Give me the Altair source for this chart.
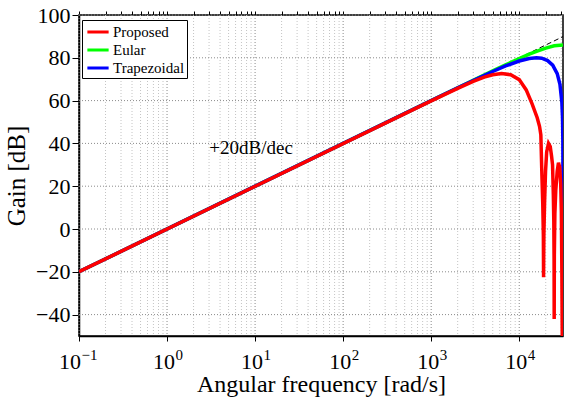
import altair as alt
import pandas as pd

SERIF = "Liberation Serif"

# ---- data ----
ideal_w = [0.1, 31416]
ideal_gain = [-20.0, 89.9]

euler_w = [0.1, 1000, 2000, 3000, 5000, 7000, 10000, 13000, 16000, 20000, 25000, 31416]
euler_gain = [-20.0, 60.0, 66.0, 69.5, 73.9, 76.7, 79.6, 81.7, 83.1, 84.5, 85.6, 86.0]

trap_w = [0.1, 1000, 2000, 3000, 5000, 7000, 10000, 13000, 15708, 18000, 21000, 24000,
          27000, 29000, 30500, 31000, 31300, 31400, 31416]
trap_gain = [-20.0, 60.0, 66.0, 69.4, 73.6, 76.2, 78.5, 79.7, 80.0, 79.8, 78.7, 76.6,
             72.6, 67.6, 59.2, 52.4, 41.3, 24.0, -60.0]

prop_w = [0.1, 1000, 2000, 3000, 4000, 5000, 6300, 8000, 10000, 12000, 14000, 16000,
          17000, 17600, 18100, 18500, 18800, 18900, 19050, 19400, 19900, 20500, 21500,
          22500, 23300, 23900, 24400, 24700, 24880, 24950, 25050, 25400, 26000, 27000,
          27900, 28800, 29600, 30100, 30500, 30900, 31416]
prop_gain = [-20.0, 59.9, 65.7, 69.0, 71.0, 72.1, 72.6, 72.1, 69.8, 65.0, 58.5, 52.0,
             48.0, 44.0, 25.0, 12.0, -3.0, -22.5, -3.0, 12.0, 27.0, 36.0, 40.0,
             38.5, 34.0, 30.0, 16.0, 4.0, -14.0, -42.0, -12.0, 7.0, 18.0, 27.0,
             31.0, 29.0, 21.0, 8.0, -20.0, -60.0, -90.0]

series_names = ["Proposed", "Eular", "Trapezoidal"]
series_colors = ["#ff0000", "#00ff00", "#0000ff"]

x_major = [0.1, 1, 10, 100, 1000, 10000]
x_exp = ["\u22121", "0", "1", "2", "3", "4"]
x_minor = [m * d for d in [0.1, 1, 10, 100, 1000, 10000] for m in range(2, 10) if m * d <= 31416]
y_ticks = [-40, -20, 0, 20, 40, 60, 80, 100]

ann_w = [9]
ann_gain = [38]
ann_text = ["+20dB/dec"]

# ---- tables ----
lines = pd.concat([
    pd.DataFrame({"w": euler_w, "g": euler_gain, "series": "Eular"}),
    pd.DataFrame({"w": trap_w, "g": trap_gain, "series": "Trapezoidal"}),
    pd.DataFrame({"w": prop_w, "g": prop_gain, "series": "Proposed"}),
])
ideal = pd.DataFrame({"w": ideal_w, "g": ideal_gain})
minor_df = pd.DataFrame({"w": x_minor})
major_df = pd.DataFrame({"w": x_major, "e": x_exp})
ygrid_df = pd.DataFrame({"g": y_ticks})
ann_df = pd.DataFrame({"w": ann_w, "g": ann_gain, "t": ann_text})

xscale = alt.Scale(type="log", domain=[0.1, 31416], nice=False)
yscale = alt.Scale(domain=[-50, 100], nice=False)

# grid
minor_grid = alt.Chart(minor_df).mark_rule(color="#c4c4c4", strokeWidth=1, strokeDash=[1, 2]).encode(
    x=alt.X("w:Q", scale=xscale,
            axis=alt.Axis(orient="top", values=x_major + x_minor, labels=False, ticks=True,
                          tickSize=4, tickColor="black", domain=False, grid=False, title=None))
)
major_grid = alt.Chart(major_df).mark_rule(color="#8a8a8a", strokeWidth=1, strokeDash=[1, 2]).encode(
    x=alt.X("w:Q", scale=xscale, axis=None)
)
y_grid = alt.Chart(ygrid_df).mark_rule(color="#8a8a8a", strokeWidth=1, strokeDash=[1, 2]).encode(
    y=alt.Y("g:Q", scale=yscale, axis=None)
)

ideal_line = alt.Chart(ideal).mark_line(color="black", strokeWidth=1, strokeDash=[5, 3], clip=True).encode(
    x=alt.X("w:Q", scale=xscale, axis=None),
    y=alt.Y("g:Q", scale=yscale, axis=None),
)

legend = alt.Legend(title=None, orient="none", legendX=3, legendY=5,
                    symbolType="M-1.25,0L1.25,0", symbolSize=289, symbolStrokeWidth=3,
                    symbolOffset=4, labelFont=SERIF, labelFontSize=15, labelColor="black",
                    fillColor="white", strokeColor="black", padding=2,
                    rowPadding=0, labelOffset=5, cornerRadius=0)
color = alt.Color("series:N", scale=alt.Scale(domain=series_names, range=series_colors), legend=legend)

x_axis = alt.Axis(values=x_major, labels=False, ticks=True, tickSize=5, tickColor="black",
                  domain=True, domainColor="black", domainWidth=1.5, grid=False,
                  title="Angular frequency [rad/s]", titleFont=SERIF, titleFontSize=24,
                  titleFontWeight="normal", titleColor="black", titlePadding=31)
y_axis = alt.Axis(values=y_ticks, tickSize=7, tickColor="black", domain=True, domainColor="black",
                  domainWidth=1.5, grid=False, labelFont=SERIF, labelFontSize=22, labelColor="black",
                  labelPadding=2, title="Gain [dB]", titleFont=SERIF, titleFontSize=25,
                  titleFontWeight="normal", titleColor="black", titlePadding=6)


def series_layer(name, with_axes):
    return alt.Chart(lines).transform_filter(alt.datum.series == name).mark_line(
        strokeWidth=3.5, clip=True
    ).encode(
        x=alt.X("w:Q", scale=xscale, axis=x_axis if with_axes else None),
        y=alt.Y("g:Q", scale=yscale, axis=y_axis if with_axes else None),
        color=color,
    )


eular_layer = series_layer("Eular", True)
trap_layer = series_layer("Trapezoidal", False)
prop_layer = series_layer("Proposed", False)

ann = alt.Chart(ann_df).mark_text(font=SERIF, fontSize=19, color="black").encode(
    x=alt.X("w:Q", scale=xscale, axis=None),
    y=alt.Y("g:Q", scale=yscale, axis=None),
    text="t:N",
)

lab_base = alt.Chart(major_df).encode(
    x=alt.X("w:Q", scale=xscale, axis=None),
    y=alt.YDatum(datum=-50, scale=yscale, axis=None),
)
ten_a = lab_base.transform_filter("datum.w < 0.5").mark_text(
    text="10", font=SERIF, fontSize=22, align="right", baseline="alphabetic", dx=2, dy=33, color="black")
ten_b = lab_base.transform_filter("datum.w > 0.5").mark_text(
    text="10", font=SERIF, fontSize=22, align="right", baseline="alphabetic", dx=8, dy=33, color="black")
exp_a = lab_base.transform_filter("datum.w < 0.5").mark_text(
    font=SERIF, fontSize=15, align="left", baseline="alphabetic", dx=2.5, dy=24, color="black").encode(text="e:N")
exp_b = lab_base.transform_filter("datum.w > 0.5").mark_text(
    font=SERIF, fontSize=15, align="left", baseline="alphabetic", dx=8.5, dy=24, color="black").encode(text="e:N")

chart = alt.layer(
    minor_grid, major_grid, y_grid, ideal_line, eular_layer, trap_layer, prop_layer, ann,
    ten_a, ten_b, exp_a, exp_b,
).resolve_axis(x="independent", y="independent").properties(
    width=484, height=321,
    autosize=alt.AutoSizeParams(type="none"),
    padding={"left": 79, "top": 15, "right": 1, "bottom": 61},
    background="white",
).configure_view(stroke="black", strokeWidth=1.5)

chart.save("out.html", embed_options={"renderer": "svg", "actions": False})
